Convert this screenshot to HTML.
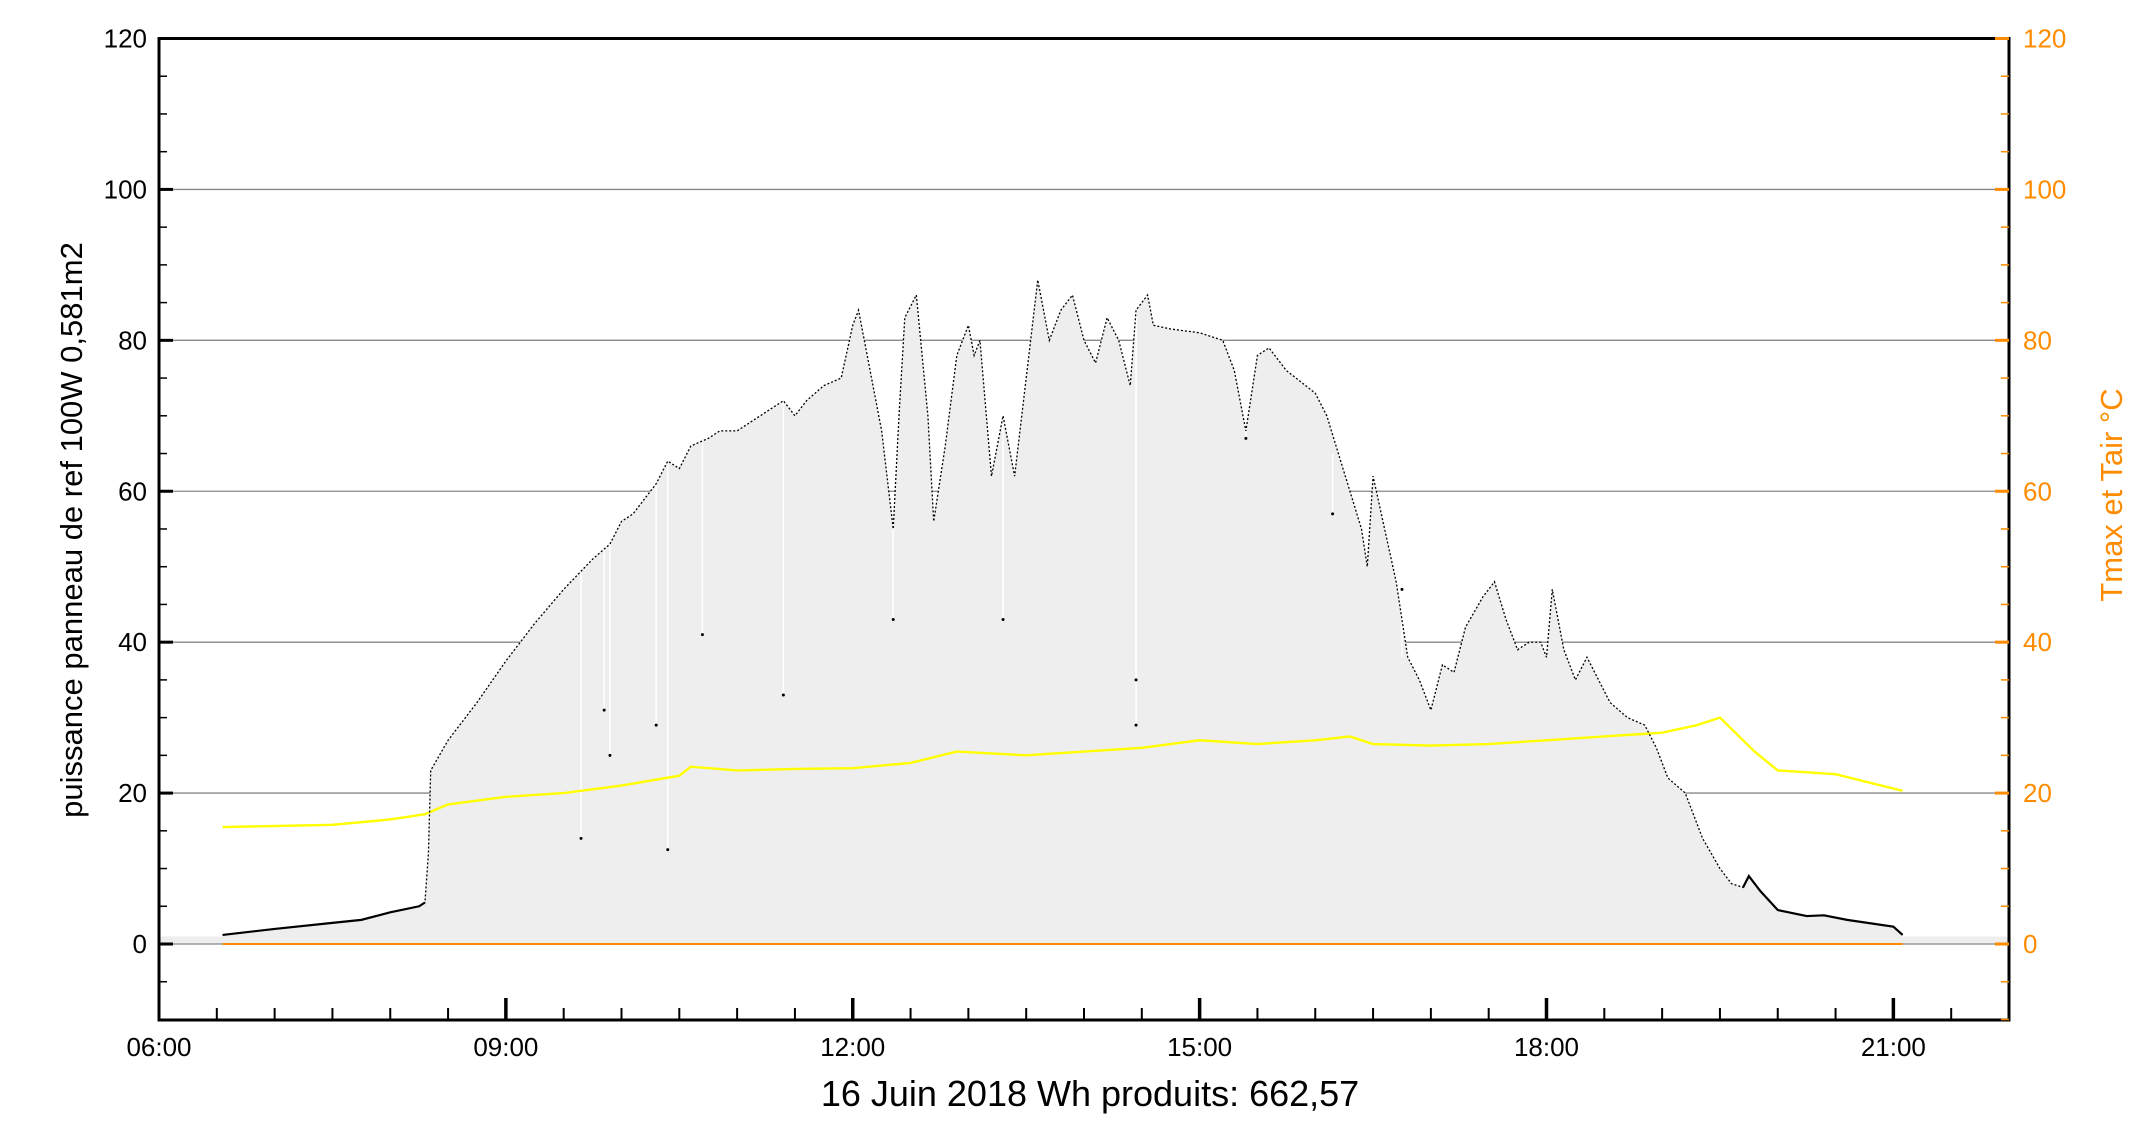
<!DOCTYPE html>
<html><head><meta charset="utf-8">
<style>
html,body{margin:0;padding:0;background:#fff;}
svg{display:block;font-family:"Liberation Sans",sans-serif;}
</style></head>
<body>
<svg id="chart" width="2130" height="1140" viewBox="0 0 2130 1140" xmlns="http://www.w3.org/2000/svg">
<g id="grid"></g>
<g id="fill"></g>
<g id="series"></g>
<g id="axes"></g>
<text x="0" y="0" transform="translate(82,530) rotate(-90)" text-anchor="middle" font-size="31" fill="#000">puissance panneau de ref 100W 0,581m2</text>
<text x="0" y="0" transform="translate(2122,495) rotate(-90)" text-anchor="middle" font-size="31" fill="#ff8c00">Tmax et Tair °C</text>
<text x="1090" y="1106" text-anchor="middle" font-size="36" fill="#000">16 Juin 2018 Wh produits: 662,57</text>
</svg>
<script>
const powerTimes=[6.55,7.0,7.5,7.75,8.0,8.25,8.3,8.33,8.35,8.5,8.75,9.0,9.25,9.5,9.75,9.9,10.0,10.1,10.2,10.3,10.4,10.5,10.6,10.75,10.85,11.0,11.2,11.4,11.5,11.6,11.75,11.9,12.0,12.05,12.15,12.25,12.35,12.4,12.45,12.55,12.65,12.7,12.8,12.9,13.0,13.05,13.1,13.2,13.3,13.4,13.5,13.6,13.7,13.8,13.9,14.0,14.1,14.2,14.3,14.4,14.45,14.55,14.6,14.75,15.0,15.2,15.3,15.4,15.5,15.6,15.75,16.0,16.1,16.2,16.3,16.4,16.45,16.5,16.6,16.7,16.8,16.9,17.0,17.1,17.2,17.3,17.45,17.55,17.65,17.75,17.85,17.95,18.0,18.05,18.15,18.25,18.35,18.45,18.55,18.7,18.85,18.95,19.05,19.2,19.35,19.5,19.6,19.7,19.75,19.85,20.0,20.25,20.4,20.6,21.0,21.08];
const powerValues=[1.2,2,2.8,3.2,4.2,5,5.5,12,23,27,32,37.5,42.5,47,51,53,56,57,59,61,64,63,66,67,68,68,70,72,70,72,74,75,82,84,76,68,55,70,83,86,70,56,66,78,82,78,80,62,70,62,75,88,80,84,86,80,77,83,80,74,84,86,82,81.5,81,80,76,68,78,79,76,73,70,65,60,55,50,62,55,48,38,35,31,37,36,42,46,48,43,39,40,40,38,47,39,35,38,35,32,30,29,26,22,20,14,10,8,7.5,9,7,4.5,3.7,3.8,3.2,2.3,1.2];
const dipTimes=[9.65,9.85,9.9,10.3,10.4,10.7,11.4,12.35,13.3,14.45,14.45,15.4,16.15,16.75];
const dipValues=[14,31,25,29,12.5,41,33,43,43,29,35,67,57,47];
const tempTimes=[6.55,7.5,8.0,8.3,8.5,9.0,9.5,10.0,10.5,10.6,11.0,11.5,12.0,12.5,12.9,13.5,14.0,14.5,15.0,15.5,16.0,16.3,16.5,17.0,17.5,18.0,18.5,19.0,19.3,19.5,19.6,19.8,20.0,20.5,21.08];
const tempValues=[15.5,15.8,16.5,17.2,18.5,19.5,20,21,22.3,23.5,23,23.2,23.3,24,25.5,25,25.5,26,27,26.5,27,27.5,26.5,26.3,26.5,27,27.5,28,29,30,28.5,25.5,23,22.5,20.3];
const yTicks=[0,20,40,60,80,100,120];
const xTickHours=[6,9,12,15,18,21];
const xTickLabels=["06:00","09:00","12:00","15:00","18:00","21:00"];

const L=159,R=2009,T=38.5,B=1020;
const X=h=>L+(h-6)*(R-L)/16;
const Y=v=>944-v*(944-38.5)/120;
const NS="http://www.w3.org/2000/svg";
function mk(tag,attrs,parent){const e=document.createElementNS(NS,tag);for(const k in attrs)e.setAttribute(k,attrs[k]);parent.appendChild(e);return e;}
const grid=document.getElementById('grid'),fill=document.getElementById('fill'),series=document.getElementById('series'),axes=document.getElementById('axes');

let s=mk('rect',{x:L,y:Y(1),width:R-L,height:Y(0)-Y(1),fill:'#eeeeee'},fill);


let pts=powerTimes.map((t,i)=>X(t)+','+Y(powerValues[i])).join(' ');
pts=X(powerTimes[0])+','+Y(0)+' '+pts+' '+X(powerTimes[powerTimes.length-1])+','+Y(0);
let a=mk('polygon',{points:pts,fill:'#eeeeee'},fill);


yTicks.forEach(v=>{if(v>0&&v<120){let g=mk('line',{x1:L,x2:R,y1:Y(v),y2:Y(v),stroke:'#888',"stroke-width":1.3},grid);

}});
dipTimes.forEach((t,i)=>{
 let j=powerTimes.findIndex(p=>p>=t);let top=powerValues[Math.max(0,j)];
 let w=mk('line',{x1:X(t),x2:X(t),y1:Y(top),y2:Y(dipValues[i]),stroke:'#fff',"stroke-width":1.5},fill);
 
 
 let d=mk('circle',{cx:X(t),cy:Y(dipValues[i]),r:1.5,fill:'#000'},series);
 
 
});
let z1=mk('line',{x1:L,x2:R,y1:Y(0),y2:Y(0),stroke:'#888',"stroke-width":1.3},series);


let z2=mk('line',{x1:X(powerTimes[0]),x2:X(powerTimes[powerTimes.length-1]),y1:Y(0),y2:Y(0),stroke:'#ff8c00',"stroke-width":2},series);


let tl=mk('polyline',{points:tempTimes.map((t,i)=>X(t)+','+Y(tempValues[i])).join(' '),fill:'none',stroke:'#ffff00',"stroke-width":2.4},series);


let pl=mk('polyline',{points:powerTimes.map((t,i)=>X(t)+','+Y(powerValues[i])).join(' '),fill:'none',stroke:'#000',"stroke-width":1.3,"stroke-dasharray":"2 2"},series);


[[6.55,8.3],[19.7,21.08]].forEach(r=>{
 let seg=mk('polyline',{points:powerTimes.map((t,i)=>[t,powerValues[i]]).filter(p=>p[0]>=r[0]&&p[0]<=r[1]).map(p=>X(p[0])+','+Y(p[1])).join(' '),fill:'none',stroke:'#000',"stroke-width":2.2},series);
 
 
});
let f=mk('rect',{x:L,y:T,width:R-L,height:B-T,fill:'none',stroke:'#000',"stroke-width":3},axes);


for(let v=-10;v<=120;v+=5){
 const major=v%20===0;
 let t1=mk('line',{x1:L,x2:L+(major?14:8),y1:Y(v),y2:Y(v),stroke:'#000',"stroke-width":major?3:1.5},axes);
 
 
 let t2=mk('line',{x1:R,x2:R-(major?14:8),y1:Y(v),y2:Y(v),stroke:'#ff8c00',"stroke-width":major?3:1.5},axes);
 
 
}
yTicks.forEach(v=>{
 let l=mk('text',{x:L-12,y:Y(v)+9,"text-anchor":"end","font-size":26,fill:'#000'},axes);l.textContent=v;
 
 
 let r=mk('text',{x:R+14,y:Y(v)+9,"text-anchor":"start","font-size":26,fill:'#ff8c00'},axes);r.textContent=v;
 
 
});
for(let h=6.5;h<22;h+=0.5){
 const major=Math.abs(h%3)<1e-6;
 let t=mk('line',{x1:X(h),x2:X(h),y1:B,y2:B-(major?22:12),stroke:'#000',"stroke-width":major?3.5:2},axes);
 
 
}
xTickHours.forEach((h,i)=>{
 let l=mk('text',{x:X(h),y:B+36,"text-anchor":"middle","font-size":26,fill:'#000'},axes);l.textContent=xTickLabels[i];
 
 
});
</script>
</body></html>
